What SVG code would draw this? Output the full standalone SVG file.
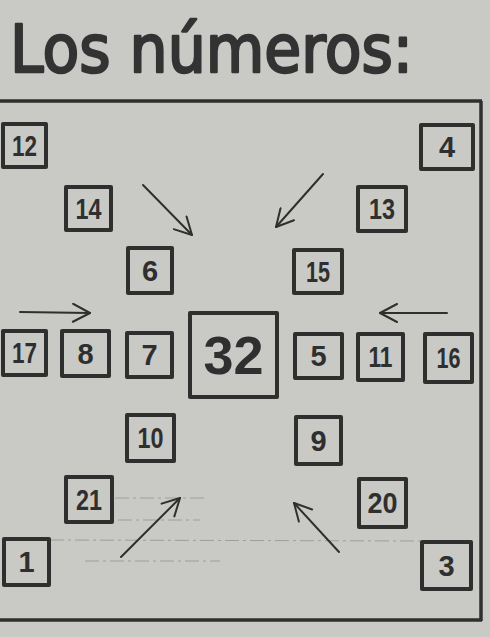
<svg xmlns="http://www.w3.org/2000/svg" width="490" height="637" viewBox="0 0 490 637">
<defs>
<style>
.bg{fill:#c9c9c5}
.box{fill:none;stroke:#2f2f2f;stroke-width:4;stroke-linejoin:round}
.num{font-family:"Liberation Sans",Arial,sans-serif;font-weight:bold;font-size:29px;fill:#2f2f2f;text-anchor:middle;dominant-baseline:central}
.big{font-size:54px}
.frame{fill:none;stroke:#2f2f2f;stroke-width:3.5}
.arr{fill:none;stroke:#2f2f2f;stroke-width:2;stroke-linecap:round}
.faint{fill:none;stroke:#9e9e9a;stroke-width:1;stroke-dasharray:14 4 3 4}
.title{font-family:"DejaVu Sans",sans-serif;font-size:66px;fill:#333;stroke:#333;stroke-width:2.5;stroke-linejoin:round}
</style>
<marker id="ah" viewBox="0 0 20 20" refX="19" refY="10" markerWidth="20" markerHeight="20" markerUnits="userSpaceOnUse" orient="auto">
<path d="M2,1 L19,10 L2,19" fill="none" stroke="#2f2f2f" stroke-width="2" stroke-linecap="round" stroke-linejoin="round"/>
</marker>
</defs>
<rect class="bg" x="0" y="0" width="490" height="637"/>
<text class="title" x="10" y="72" textLength="403" lengthAdjust="spacingAndGlyphs">Los números:</text>
<path class="frame" d="M0,101 L482,101 M481,101 L481,621 M0,620 L482,620"/>
<g id="faint-lines">
<line class="faint" x1="115" y1="498" x2="205" y2="498"/>
<line class="faint" x1="118" y1="520" x2="200" y2="520"/>
<line class="faint" x1="50" y1="540" x2="420" y2="541"/>
<line class="faint" x1="85" y1="561" x2="220" y2="561"/>
</g>
<g id="connectors">
<line class="arr" x1="143" y1="185" x2="192" y2="235" marker-end="url(#ah)"/>
<line class="arr" x1="323" y1="174" x2="276" y2="227" marker-end="url(#ah)"/>
<line class="arr" x1="20" y1="312" x2="90" y2="313" marker-end="url(#ah)"/>
<line class="arr" x1="447" y1="313" x2="380" y2="313" marker-end="url(#ah)"/>
<line class="arr" x1="121" y1="557" x2="180" y2="498" marker-end="url(#ah)"/>
<line class="arr" x1="339" y1="552" x2="294" y2="503" marker-end="url(#ah)"/>
</g>
<g id="n12"><rect class="box" x="3" y="124" width="43" height="43"/><text class="num" x="24.5" y="146" textLength="25" lengthAdjust="spacingAndGlyphs">12</text></g>
<g id="n4"><rect class="box" x="421" y="125" width="52" height="44"/><text class="num" x="447" y="147">4</text></g>
<g id="n14"><rect class="box" x="66" y="187" width="45" height="43"/><text class="num" x="88.5" y="209" textLength="26" lengthAdjust="spacingAndGlyphs">14</text></g>
<g id="n13"><rect class="box" x="358" y="187" width="48" height="44"/><text class="num" x="382" y="209" textLength="26" lengthAdjust="spacingAndGlyphs">13</text></g>
<g id="n6"><rect class="box" x="128" y="248" width="44" height="45"/><text class="num" x="150" y="270.5">6</text></g>
<g id="n15"><rect class="box" x="294" y="250" width="48" height="43"/><text class="num" x="318" y="271.5" textLength="24" lengthAdjust="spacingAndGlyphs">15</text></g>
<g id="n17"><rect class="box" x="3" y="331" width="43" height="44"/><text class="num" x="24.5" y="353" textLength="25" lengthAdjust="spacingAndGlyphs">17</text></g>
<g id="n8"><rect class="box" x="62" y="331" width="47" height="45"/><text class="num" x="85.5" y="353.5">8</text></g>
<g id="n7"><rect class="box" x="127" y="333" width="45" height="44"/><text class="num" x="149.5" y="355">7</text></g>
<g id="n32"><rect class="box" x="190" y="313" width="87" height="84"/><text class="num big" x="233.5" y="355">32</text></g>
<g id="n5"><rect class="box" x="295" y="334" width="47" height="44"/><text class="num" x="318.5" y="356">5</text></g>
<g id="n11"><rect class="box" x="358" y="334" width="45" height="46"/><text class="num" x="380.5" y="357" textLength="24" lengthAdjust="spacingAndGlyphs">11</text></g>
<g id="n16"><rect class="box" x="425" y="334" width="47" height="48"/><text class="num" x="448.5" y="358" textLength="24" lengthAdjust="spacingAndGlyphs">16</text></g>
<g id="n10"><rect class="box" x="127" y="415" width="47" height="46"/><text class="num" x="150.5" y="438" textLength="26" lengthAdjust="spacingAndGlyphs">10</text></g>
<g id="n9"><rect class="box" x="296" y="417" width="45" height="47"/><text class="num" x="318.5" y="440.5">9</text></g>
<g id="n21"><rect class="box" x="66" y="477" width="46" height="45"/><text class="num" x="89" y="499.5" textLength="26" lengthAdjust="spacingAndGlyphs">21</text></g>
<g id="n20"><rect class="box" x="359" y="479" width="47" height="48"/><text class="num" x="382.5" y="503" textLength="30" lengthAdjust="spacingAndGlyphs">20</text></g>
<g id="n1"><rect class="box" x="4" y="539" width="45" height="46"/><text class="num" x="26.5" y="562">1</text></g>
<g id="n3"><rect class="box" x="422" y="542" width="49" height="47"/><text class="num" x="446.5" y="565.5">3</text></g>
</svg>
